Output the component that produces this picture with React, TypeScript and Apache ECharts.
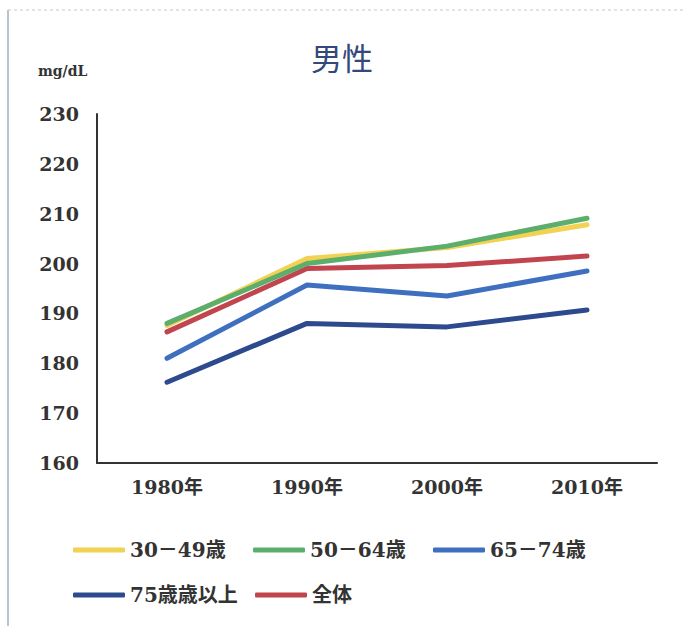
import React, { useEffect, useRef } from "react";
import * as echarts from "echarts";

const categories = ["1980年", "1990年", "2000年", "2010年"];
const seriesNames = ["30－49歳", "50－64歳", "65－74歳", "75歳歳以上", "全体"];
const age30_49 = [187.6, 201.0, 203.2, 207.8];
const age50_64 = [188.0, 200.0, 203.5, 209.1];
const age65_74 = [181.0, 195.7, 193.5, 198.5];
const age75plus = [176.2, 188.0, 187.3, 190.7];
const total = [186.3, 199.0, 199.6, 201.5];
const yTicks = { min: 160, max: 230, interval: 10 };

const colors = ["#f1d253", "#5cae6c", "#3f70c0", "#2e4a8e", "#c2444f"];
const serif = "'DejaVu Serif', 'Noto Sans CJK JP', serif";

export default function App() {
  const ref = useRef<HTMLDivElement>(null);
  useEffect(() => {
    if (!ref.current) return;
    const chart = echarts.init(ref.current, null, { renderer: "svg" });
    const values = [age30_49, age50_64, age65_74, age75plus, total];
    const legendBase = {
      orient: "horizontal",
      icon: "roundRect",
      itemWidth: 52,
      itemHeight: 5,
      itemGap: 0,
      itemTextGap: 2,
      padding: 0,
      itemStyle: { borderWidth: 0 },
      textStyle: {
        fontFamily: serif,
        fontWeight: "bold",
        fontSize: 20,
        color: "#333",
      },
    };
    const legendSlots = [
      { left: 73, top: 540 },
      { left: 253, top: 540 },
      { left: 433, top: 540 },
      { left: 73, top: 585 },
      { left: 255, top: 585 },
    ];
    chart.setOption({
      animation: false,
      backgroundColor: "#fff",
      title: {
        text: "男性",
        left: "center",
        top: 36,
        textStyle: {
          fontFamily: "'Noto Sans CJK JP', sans-serif",
          fontWeight: "normal",
          fontSize: 31,
          color: "#34497a",
        },
      },
      graphic: [
        {
          type: "line",
          shape: { x1: 8, y1: 10, x2: 8, y2: 626 },
          style: { stroke: "#9fb0c2", lineWidth: 1.5 },
          silent: true,
        },
        {
          type: "line",
          shape: { x1: 8, y1: 10, x2: 684, y2: 10 },
          style: { stroke: "#c8c8c8", lineWidth: 1, lineDash: [3, 3] },
          silent: true,
        },
        {
          type: "text",
          left: 38,
          top: 64,
          style: {
            text: "mg/dL",
            font: `bold 14px ${serif}`,
            fill: "#333",
          },
        },
      ],
      grid: { left: 97, right: 27, top: 114, bottom: 163, containLabel: false },
      legend: seriesNames.map((name, i) => ({
        ...legendBase,
        data: [name],
        left: legendSlots[i].left,
        top: legendSlots[i].top,
      })),
      xAxis: {
        type: "category",
        data: categories,
        boundaryGap: true,
        axisLine: { show: true, lineStyle: { color: "#333", width: 2 } },
        axisTick: { show: false },
        axisLabel: {
          margin: 14,
          fontFamily: serif,
          fontWeight: "bold",
          fontSize: 19,
          color: "#333",
        },
        splitLine: { show: false },
      },
      yAxis: {
        type: "value",
        min: yTicks.min,
        max: yTicks.max,
        interval: yTicks.interval,
        axisLine: { show: true, lineStyle: { color: "#333", width: 2 } },
        axisTick: { show: false },
        axisLabel: {
          margin: 18,
          fontFamily: serif,
          fontWeight: "bold",
          fontSize: 19,
          color: "#333",
        },
        splitLine: { show: false },
      },
      series: seriesNames.map((name, i) => ({
        name,
        type: "line",
        data: values[i],
        showSymbol: false,
        symbol: "none",
        color: colors[i],
        lineStyle: { width: 5, color: colors[i], cap: "round", join: "round" },
        z: i === 1 ? 3 : 2,
      })),
    });
    return () => chart.dispose();
  }, []);
  return (
    <div
      ref={ref}
      style={{ position: "absolute", left: 0, top: 0, width: 684, height: 626 }}
    />
  );
}
